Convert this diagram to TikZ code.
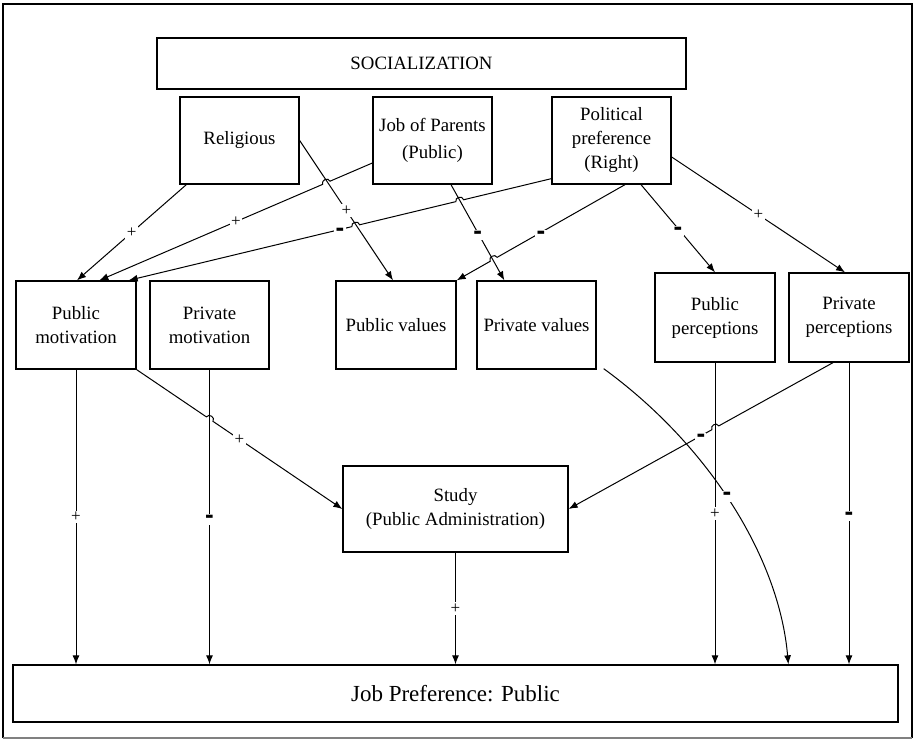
\documentclass[tikz,border=0pt]{standalone}
\usepackage{fontspec}
\setmainfont{Liberation Serif}
\newfontfamily\dashfont{Liberation Sans}
\usetikzlibrary{calc,arrows.meta}
\begin{document}
\begin{tikzpicture}[x=1pt,y=-1pt,
  box/.style={draw, line width=1.3pt, align=center, inner sep=2pt,
    font=\fontsize{18.8}{24}\selectfont},
  arr/.style={line width=1pt, -{Latex[length=9pt,width=7pt]}},
  plus/.style={fill=white, inner sep=1.5pt, font=\fontsize{17}{17}\selectfont},
  minus/.style={fill=white, inner sep=1.2pt, yshift=-2.6pt,
    font=\dashfont\bfseries\fontsize{26}{26}\selectfont},
  hopr/.style={bend right=90, looseness=1.5},
  hopl/.style={bend left=90, looseness=1.5},
]
\useasboundingbox (0,0) rectangle (915,741);
% frame
\draw[line width=1.3pt] (3,738) -- (3,4) -- (912,4) -- (912,738);
\draw[line width=1.3pt, gray] (3,738) -- (912,738);

% nodes
\node[box, minimum width=529pt, minimum height=51pt] (soc) at (421.5,63.5) {SOCIALIZATION};
\node[box, minimum width=119pt, minimum height=87pt] (rel) at (239.5,140.5) {Religious};
\node[box, minimum width=119pt, minimum height=87pt] (job) at (432.5,140.5) {Job of Parents\\[3pt](Public)};
\node[box, minimum width=119pt, minimum height=87pt] (pol) at (611.5,140.5) {Political\\preference\\(Right)};

\node[box, minimum width=120pt, minimum height=88pt] (pubmot) at (76,325) {Public\\motivation};
\node[box, minimum width=119pt, minimum height=88pt] (privmot) at (209.5,325) {Private\\motivation};
\node[box, minimum width=120pt, minimum height=88pt] (pubval) at (396,325) {Public values};
\node[box, minimum width=119pt, minimum height=88pt] (privval) at (536.5,325) {Private values};
\node[box, minimum width=120pt, minimum height=89pt] (pubper) at (715,317.5) {Public\\perceptions};
\node[box, minimum width=120pt, minimum height=89pt] (privper) at (849,317.5) {Private\\perceptions};

\node[box, minimum width=225pt, minimum height=86pt] (study) at (455.5,509) {Study\\(Public Administration)};
\node[box, minimum width=885pt, minimum height=57pt, font=\fontsize{23}{28}\selectfont] (jobpref) at (455.5,693.5) {Job Preference: Public};

% connector end points
\coordinate (r1) at ($(rel.south west)+(7,0)$);
\coordinate (pm1) at ($(pubmot.north)+(1,0)$);
\coordinate (j2) at ($(job.west)+(0,22.5)$);
\coordinate (pm2) at ($(pubmot.north west)+(84,0)$);
\coordinate (p3) at ($(pol.south west)+(0,-6)$);
\coordinate (pm3) at ($(pubmot.north east)+(-8,0)$);
\coordinate (r4) at (rel.east);
\coordinate (pv4) at ($(pubval.north)+(-3,0)$);
\coordinate (j5) at ($(job.south)+(18.5,0)$);
\coordinate (vv5) at ($(privval.north west)+(28,0)$);
\coordinate (p6) at ($(pol.south)+(13.5,0)$);
\coordinate (pv6) at (pubval.north east);
\coordinate (p7) at ($(pol.south)+(29.5,0)$);
\coordinate (pp7) at (pubper.north);
\coordinate (p8) at ($(pol.east)+(0,16.5)$);
\coordinate (vp8) at ($(privper.north)+(-4,0)$);
\coordinate (pm9) at (pubmot.south east);
\coordinate (st9) at (study.west);
\coordinate (vp10) at ($(privper.south)+(-16,0)$);
\coordinate (st10) at (study.east);
\coordinate (v16) at ($(privval.south east)+(7,-1)$);
\coordinate (e16) at (privper.south west |- jobpref.north);

% top connectors
\draw[arr] (r1) -- node[plus]{+} (pm1);
\draw[arr] (r4) -- node[plus]{+} (pv4);
\draw[arr] (j5) -- node[minus]{-} (vv5);
\draw[arr] (p7) -- node[minus]{-} (pp7);
\draw[arr] (p8) -- node[plus]{+} (vp8);

\draw[arr] (j2) -- ($(j2)!0.155!(pm2)$) to[hopr] ($(j2)!0.182!(pm2)$) -- (pm2);
\path (j2) -- node[plus]{+} (pm2);

\draw[arr] (p3) -- ($(p3)!0.2076!(pm3)$) to[hopr] ($(p3)!0.226!(pm3)$)
  -- ($(p3)!0.4535!(pm3)$) to[hopr] ($(p3)!0.472!(pm3)$) -- (pm3);
\path (p3) -- node[minus]{-} (pm3);

\draw[arr] (p6) -- ($(p6)!0.7595!(pv6)$) to[hopr] ($(p6)!0.8005!(pv6)$) -- (pv6);
\path (p6) -- node[minus]{-} (pv6);

% middle connectors
\draw[arr] (pm9) -- ($(pm9)!0.339!(st9)$) to[hopl] ($(pm9)!0.371!(st9)$) -- (st9);
\path (pm9) -- node[plus]{+} (st9);

\draw[arr] (vp10) -- ($(vp10)!0.432!(st10)$) to[hopr] ($(vp10)!0.458!(st10)$) -- (st10);
\path (vp10) -- node[minus]{-} (st10);

% bottom connectors
\draw[arr] (pubmot.south) -- node[plus]{+} (pubmot.south |- jobpref.north);
\draw[arr] (privmot.south) -- node[minus]{-} (privmot.south |- jobpref.north);
\draw[arr] (study.south) -- node[plus]{+} (study.south |- jobpref.north);
\draw[arr] (pubper.south) -- node[plus]{+} (pubper.south |- jobpref.north);
\draw[arr] (privper.south) -- node[minus]{-} (privper.south |- jobpref.north);

\draw[arr] (v16) .. controls ($(v16)+(107,78)$) and ($(e16)+(-9,-105)$) .. node[minus, pos=0.46, xshift=2pt]{-} (e16);
\end{tikzpicture}
\end{document}
